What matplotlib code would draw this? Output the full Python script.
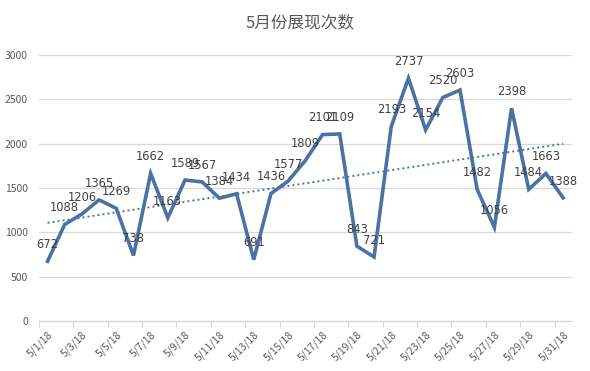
import matplotlib
matplotlib.use("Agg")
import matplotlib.pyplot as plt
import numpy as np

plt.rcParams['font.family'] = ['Noto Sans CJK SC', 'DejaVu Sans']

title = "5月份展现次数"
days = [f"5/{d}/18" for d in range(1, 32)]
values = [672, 1088, 1206, 1365, 1269, 738, 1662, 1163, 1589, 1567, 1384, 1434,
          691, 1436, 1577, 1809, 2101, 2109, 843, 721, 2193, 2737, 2154, 2520,
          2603, 1482, 1056, 2398, 1484, 1663, 1388]
yticks = [0, 500, 1000, 1500, 2000, 2500, 3000]

line_color = "#4A72A2"
grid_color = "#D9D9D9"
text_color = "#595959"

fig = plt.figure(figsize=(5.9, 3.71), dpi=100)
ax = fig.add_axes([0.066, 0.135, 0.903, 0.717])

x = np.arange(len(values))
ax.plot(x, values, color=line_color, lw=2.6, solid_joinstyle='miter', zorder=3)

# linear trend line
coef = np.polyfit(x, values, 1)
ax.plot(x, np.polyval(coef, x), color=line_color, lw=1.4, ls=(0, (1, 1.6)), zorder=2)

for xi, v in zip(x, values):
    ax.annotate(str(v), (xi, v), xytext=(0, 12), textcoords='offset points',
                ha='center', va='center', fontsize=8.3, color='#404040',
                family='DejaVu Sans', zorder=4)

ax.set_xlim(-0.5, 30.5)
ax.set_ylim(0, 3000)
ax.set_yticks(yticks)
ax.set_yticklabels([str(t) for t in yticks])
ax.yaxis.grid(True, color=grid_color, lw=0.9)
ax.set_axisbelow(True)

ax.set_xticks(x[::2])
ax.set_xticklabels(days[::2], rotation=45, ha='right', rotation_mode='anchor')
ax.set_xticks(np.arange(-0.5, 30.5, 2), minor=True)
ax.tick_params(axis='x', which='major', length=0, pad=6, labelsize=7.5,
               labelcolor=text_color)
ax.tick_params(axis='x', which='minor', length=4, color=grid_color, width=0.9)
ax.tick_params(axis='y', length=0, pad=8, labelsize=7.5, labelcolor=text_color)

for s in ['top', 'right', 'left']:
    ax.spines[s].set_visible(False)
ax.spines['bottom'].set_color(grid_color)
ax.spines['bottom'].set_linewidth(0.9)

fig.text(0.508, 0.938, title, ha='center', va='center', fontsize=12, color=text_color)

fig.savefig("out.png", dpi=100)
